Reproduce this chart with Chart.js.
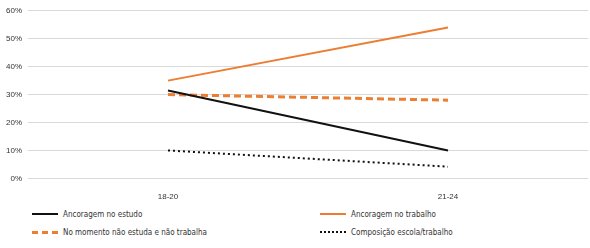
<!DOCTYPE html>
<html>
<head>
<meta charset="utf-8">
<script src="https://cdn.jsdelivr.net/npm/chart.js@4"></script>
<style>
  body { margin: 0; background: #fff; font-family: "Liberation Sans Narrow", "DejaVu Sans Condensed", sans-serif; }
  #wrap { width: 590px; height: 208px; position: relative; }
  #legenda { position: relative; width: 590px; height: 40px; font-size: 8px; color: #333; }
  .item { position: absolute; display: flex; align-items: center; height: 10px; }
  .linha { width: 26px; height: 0; margin-right: 5px; }
</style>
</head>
<body>
<div id="wrap"><canvas id="grafico"></canvas></div>
<div id="legenda"></div>
<script>
// Faixas etárias
const faixas = ['18-20', '21-24'];

// Valores em %
const estudo = [31.5, 10];
const trabalho = [35, 54];
const nemNem = [30, 28];
const composicao = [10, 4.2];

const ticksY = [0, 10, 20, 30, 40, 50, 60];

const laranja = '#ED7D31';

const series = [
  { label: 'Ancoragem no estudo', data: estudo, cor: '#111', largura: 2, dash: [], css: '2px solid #111', x: 32, y: 6 },
  { label: 'Ancoragem no trabalho', data: trabalho, cor: laranja, largura: 2, dash: [], css: '2px solid ' + laranja, x: 320, y: 6 },
  { label: 'No momento não estuda e não trabalha', data: nemNem, cor: laranja, largura: 3, dash: [7, 4], css: '3px dashed ' + laranja, x: 32, y: 24 },
  { label: 'Composição escola/trabalho', data: composicao, cor: '#111', largura: 2, dash: [2, 3], css: '2px dotted #111', x: 320, y: 24 }
];

const ctx = document.getElementById('grafico').getContext('2d');
new Chart(ctx, {
  type: 'line',
  data: {
    labels: faixas,
    datasets: series.map(s => ({
      label: s.label,
      data: s.data,
      borderColor: s.cor,
      borderWidth: s.largura,
      borderDash: s.dash,
      pointRadius: 0,
      fill: false,
      tension: 0
    }))
  },
  options: {
    responsive: true,
    maintainAspectRatio: false,
    animation: false,
    layout: { padding: { top: 2, right: 2, left: 0 } },
    plugins: { legend: { display: false }, tooltip: { enabled: false } },
    scales: {
      x: {
        offset: true,
        grid: { display: false },
        border: { display: false },
        ticks: { color: '#333', font: { size: 8, family: '"Liberation Sans Narrow", sans-serif' }, padding: 6 }
      },
      y: {
        min: 0,
        max: 60,
        afterBuildTicks: axis => { axis.ticks = ticksY.map(v => ({ value: v })); },
        grid: { color: '#d9d9d9', drawTicks: false },
        border: { display: false },
        ticks: {
          color: '#333',
          padding: 6,
          font: { size: 8, family: '"Liberation Sans Narrow", sans-serif' },
          callback: v => v + '%'
        }
      }
    }
  }
});

// Legenda em duas colunas
const legenda = document.getElementById('legenda');
series.forEach(s => {
  const item = document.createElement('div');
  item.className = 'item';
  item.style.left = s.x + 'px';
  item.style.top = (s.y - 5) + 'px';
  item.innerHTML = `<span class="linha" style="border-top:${s.css}"></span><span>${s.label}</span>`;
  legenda.appendChild(item);
});
</script>
</body>
</html>
